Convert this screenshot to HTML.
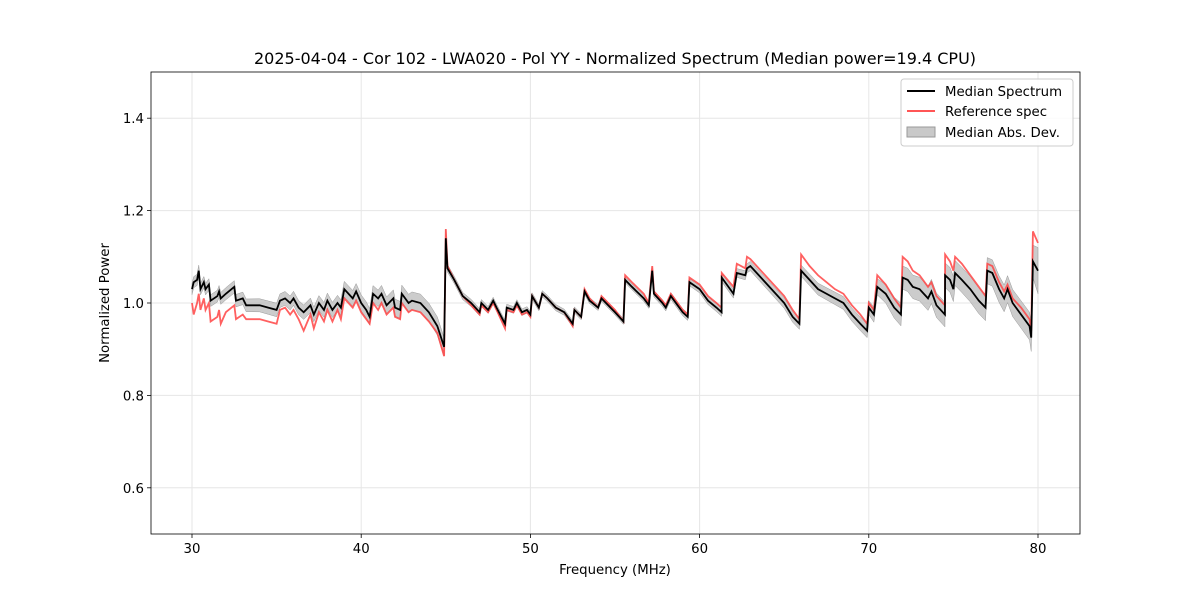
<!DOCTYPE html>
<html><head><meta charset="utf-8"><style>
body{margin:0;background:#fff;font-family:"DejaVu Sans","Liberation Sans",sans-serif}
</style></head><body>
<svg id="chart" width="1200" height="600" xmlns="http://www.w3.org/2000/svg" font-family="DejaVu Sans, Liberation Sans, sans-serif">
<rect width="1200" height="600" fill="#fff"/>
<g id="grid"></g>
<g id="plot"></g>
<rect x="151" y="72" width="929" height="462" fill="none" stroke="#000" stroke-width="0.8"/>
<g id="ticks" font-size="13.3"></g>
<text x="615" y="64" text-anchor="middle" font-size="16">2025-04-04 - Cor 102 - LWA020 - Pol YY - Normalized Spectrum (Median power=19.4 CPU)</text>
<text x="615" y="574" text-anchor="middle" font-size="13.3">Frequency (MHz)</text>
<text x="109" y="303" text-anchor="middle" font-size="13.3" transform="rotate(-90 109 303)">Normalized Power</text>
<g>
<rect x="901" y="79" width="172" height="67" rx="3" fill="#fff" fill-opacity="0.85" stroke="#ccc"/>
<g><line x1="907" y1="91" x2="935" y2="91" stroke="#000" stroke-width="2"/><text x="945" y="96" font-size="13.3">Median Spectrum</text></g>
<g><line x1="907" y1="111" x2="935" y2="111" stroke="#f55" stroke-width="2"/><text x="945" y="116" font-size="13.3">Reference spec</text></g>
<g><rect x="907" y="127" width="28" height="10" fill="#bbb" fill-opacity="0.8" stroke="#999"/><text x="945" y="137" font-size="13.3">Median Abs. Dev.</text></g>
</g>
</svg>
<script>
const freqs=[30,30.1,30.3,30.4,30.5,30.7,30.8,31,31.1,31.5,31.6,31.7,32,32.5,32.6,33,33.2,34,34.5,35,35.2,35.5,35.8,36,36.3,36.6,37,37.2,37.5,37.8,38,38.3,38.6,38.8,39,39.5,39.7,40,40.3,40.5,40.7,41,41.2,41.5,41.9,42,42.3,42.4,42.8,43,43.5,44,44.5,44.9,45,45.1,45.5,46,46.5,47,47.1,47.5,47.8,48,48.5,48.6,49,49.2,49.5,49.8,50,50.1,50.5,50.7,51,51.5,52,52.5,52.6,53,53.2,53.5,54,54.2,55,55.5,55.6,56,56.7,57,57.2,57.3,57.8,58,58.3,58.5,59,59.3,59.4,60,60.5,61,61.3,61.31,62,62.2,62.7,62.8,63,63.5,64,65,65.5,65.9,66,66.5,67,67.5,68,68.5,69,69.5,69.9,70,70.3,70.5,71,71.5,71.9,72,72.3,72.6,73,73.5,73.7,74,74.5,74.51,74.8,75,75.1,75.5,76,76.5,76.9,77,77.3,77.7,78,78.2,78.5,79,79.5,79.6,79.7,80];
const median=[1.03,1.045,1.05,1.07,1.03,1.045,1.03,1.04,1.005,1.015,1.025,1.01,1.02,1.035,1.005,1.01,0.995,0.995,0.99,0.985,1.005,1.01,1.0,1.01,0.99,0.98,0.995,0.975,1.0,0.985,1.005,0.985,1.0,0.99,1.03,1.01,1.025,1.0,0.985,0.97,1.02,1.01,1.02,0.995,1.01,0.99,0.985,1.02,1.0,1.005,1.0,0.98,0.95,0.905,1.14,1.075,1.05,1.015,1.0,0.98,1.0,0.985,1.005,0.99,0.955,0.99,0.985,1.0,0.98,0.985,0.975,1.015,0.99,1.02,1.01,0.99,0.98,0.955,0.985,0.97,1.025,1.005,0.99,1.01,0.98,0.96,1.05,1.035,1.01,0.995,1.07,1.02,1.0,0.99,1.015,1.005,0.98,0.97,1.045,1.03,1.005,0.99,0.98,1.055,1.02,1.065,1.06,1.075,1.08,1.06,1.04,1.0,0.97,0.955,1.07,1.05,1.03,1.02,1.01,1.0,0.975,0.955,0.94,0.99,0.975,1.035,1.02,0.99,0.975,1.055,1.05,1.035,1.03,1.01,1.025,0.995,0.975,1.06,1.05,1.03,1.065,1.05,1.03,1.005,0.99,1.07,1.065,1.03,1.01,1.03,1.0,0.975,0.95,0.925,1.09,1.07];
const reference=[1.0,0.975,1.0,1.02,0.985,1.01,0.985,1.0,0.96,0.97,0.985,0.955,0.98,0.995,0.965,0.975,0.965,0.965,0.96,0.955,0.985,0.99,0.975,0.985,0.965,0.94,0.975,0.945,0.98,0.96,0.985,0.96,0.985,0.965,1.01,0.99,1.005,0.98,0.965,0.955,1.0,0.985,1.0,0.975,0.99,0.97,0.965,1.0,0.98,0.985,0.98,0.96,0.935,0.885,1.16,1.08,1.05,1.015,0.995,0.975,0.995,0.98,1.0,0.985,0.945,0.985,0.98,0.995,0.975,0.98,0.97,1.015,0.99,1.02,1.01,0.99,0.98,0.95,0.985,0.97,1.03,1.01,0.99,1.015,0.985,0.96,1.06,1.045,1.02,1.0,1.08,1.025,1.005,0.995,1.02,1.01,0.985,0.975,1.055,1.04,1.015,1.0,0.99,1.065,1.035,1.085,1.075,1.1,1.095,1.075,1.055,1.015,0.985,0.965,1.105,1.08,1.06,1.045,1.03,1.02,0.995,0.975,0.955,1.0,0.985,1.06,1.04,1.01,0.99,1.1,1.09,1.07,1.06,1.035,1.045,1.015,0.995,1.105,1.09,1.07,1.1,1.085,1.06,1.035,1.015,1.085,1.08,1.045,1.025,1.04,1.01,0.99,0.965,0.94,1.155,1.13];
const devFreqs=[30,45,45.1,55,60,66,70,72,79.6,80];
const devVals=[0.012,0.02,0.008,0.006,0.008,0.012,0.015,0.025,0.03,0.05];
const xTicks=[30,40,50,60,70,80];
const yTicks=[0.6,0.8,1.0,1.2,1.4];

const NS='http://www.w3.org/2000/svg';
const X0=151,X1=1080,Y0=534,Y1=72;
const xs=f=>192+(f-30)*(1038-192)/50;
const ys=v=>Y0-(v-0.5)*(Y0-Y1)/1.0;
function devAt(f){for(let i=0;i<devFreqs.length-1;i++){if(f<=devFreqs[i+1]){const t=(f-devFreqs[i])/(devFreqs[i+1]-devFreqs[i]);return devVals[i]+t*(devVals[i+1]-devVals[i]);}}return devVals[devVals.length-1];}
const grid=document.getElementById('grid'),plot=document.getElementById('plot'),ticks=document.getElementById('ticks');
xTicks.forEach(t=>{
 const g=document.createElementNS(NS,'line');g.setAttribute('x1',xs(t));g.setAttribute('x2',xs(t));g.setAttribute('y1',Y1);g.setAttribute('y2',Y0);g.setAttribute('stroke','#e6e6e6');
 
 
 grid.appendChild(g);
 const tk=document.createElementNS(NS,'line');tk.setAttribute('x1',xs(t));tk.setAttribute('x2',xs(t));tk.setAttribute('y1',Y0);tk.setAttribute('y2',Y0+4);tk.setAttribute('stroke','#000');tk.setAttribute('stroke-width','0.8');
 ticks.appendChild(tk);
 const tx=document.createElementNS(NS,'text');tx.setAttribute('x',xs(t));tx.setAttribute('y',Y0+19);tx.setAttribute('text-anchor','middle');tx.textContent=t;
 
 
 ticks.appendChild(tx);
});
yTicks.forEach(t=>{
 const g=document.createElementNS(NS,'line');g.setAttribute('x1',X0);g.setAttribute('x2',X1);g.setAttribute('y1',ys(t));g.setAttribute('y2',ys(t));g.setAttribute('stroke','#e6e6e6');
 
 
 grid.appendChild(g);
 const tk=document.createElementNS(NS,'line');tk.setAttribute('x1',X0-4);tk.setAttribute('x2',X0);tk.setAttribute('y1',ys(t));tk.setAttribute('y2',ys(t));tk.setAttribute('stroke','#000');tk.setAttribute('stroke-width','0.8');
 ticks.appendChild(tk);
 const tx=document.createElementNS(NS,'text');tx.setAttribute('x',X0-7);tx.setAttribute('y',ys(t)+5);tx.setAttribute('text-anchor','end');tx.textContent=t.toFixed(1);
 
 
 ticks.appendChild(tx);
});
let up=freqs.map((f,i)=>xs(f)+','+ys(median[i]+devAt(f)));
let lo=freqs.map((f,i)=>xs(f)+','+ys(median[i]-devAt(f))).reverse();
const band=document.createElementNS(NS,'polygon');band.setAttribute('points',up.concat(lo).join(' '));band.setAttribute('fill','#bbb');band.setAttribute('fill-opacity','0.75');band.setAttribute('stroke','#999');band.setAttribute('stroke-width','0.5');


plot.appendChild(band);
const ref=document.createElementNS(NS,'polyline');ref.setAttribute('points',freqs.map((f,i)=>xs(f)+','+ys(reference[i])).join(' '));ref.setAttribute('fill','none');ref.setAttribute('stroke','#f44');ref.setAttribute('stroke-opacity','0.85');ref.setAttribute('stroke-width','1.8');


plot.appendChild(ref);
const med=document.createElementNS(NS,'polyline');med.setAttribute('points',freqs.map((f,i)=>xs(f)+','+ys(median[i])).join(' '));med.setAttribute('fill','none');med.setAttribute('stroke','#000');med.setAttribute('stroke-width','1.8');


plot.appendChild(med);
</script>
</body></html>
